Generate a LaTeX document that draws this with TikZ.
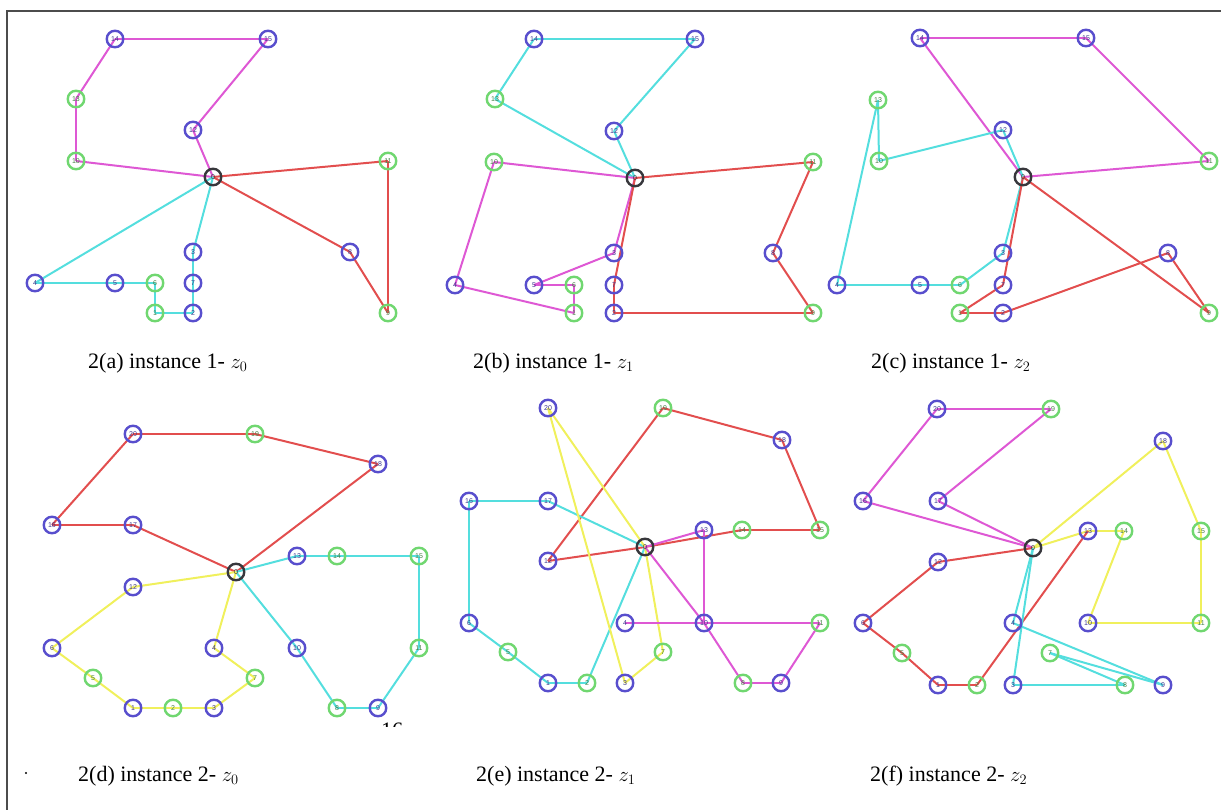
\documentclass[tikz,border=0pt]{standalone}
\usepackage{fontspec}
\setmainfont{Liberation Serif}
\newfontfamily\lblfont{Liberation Sans}
\pgfdeclarelayer{bg}
\pgfsetlayers{bg,main}
\definecolor{nblue}{RGB}{88,78,205}
\definecolor{ngreen}{RGB}{112,215,112}
\definecolor{ndepot}{RGB}{55,55,60}
\definecolor{emag}{RGB}{222,88,212}
\definecolor{ered}{RGB}{226,78,78}
\definecolor{ecyan}{RGB}{84,222,222}
\definecolor{eyel}{RGB}{240,240,92}
\tikzset{
  vtx/.style={circle, minimum size=16.5pt, inner sep=0pt, line width=2.4pt, fill=none,
              font=\lblfont\fontsize{7}{7}\selectfont},
  bnode/.style={vtx, draw=nblue, text=nblue!70!black},
  gnode/.style={vtx, draw=ngreen, text=ngreen!60!black},
  dnode/.style={vtx, draw=ndepot, text=ndepot},
  emg/.style={draw=emag, line width=2pt},
  erd/.style={draw=ered, line width=2pt},
  ecy/.style={draw=ecyan, line width=2pt},
  eyl/.style={draw=eyel, line width=2pt},
  captxt/.style={anchor=base west, inner sep=0pt, font=\fontsize{22}{26}\selectfont}
}
\begin{document}
\begin{tikzpicture}[x=1pt,y=-1pt]
\useasboundingbox (0,0) rectangle (1221,810);
\draw[gray!60!black, line width=1.3pt] (7,810) -- (7,11) -- (1221,11);

% ---------- panel (a)
\foreach \n/\x/\y in {14/115/39,15/268/39,12/193/130,3/193/252,8/350/252,4/35/283,5/115/283,7/193/283,2/193/313}
  \node[bnode] (a\n) at (\x,\y) {\n};
\foreach \n/\x/\y in {13/76/99,10/76/161,11/388/161,6/155/283,1/155/313,9/388/313}
  \node[gnode] (a\n) at (\x,\y) {\n};
\node[dnode] (a0) at (213,177) {0};
% ---------- panel (b)
\foreach \n/\x/\y in {14/534/39,15/695/39,12/614/131,3/614/253,8/773/253,4/455/285,5/534/285,7/614/285,2/614/313}
  \node[bnode] (b\n) at (\x,\y) {\n};
\foreach \n/\x/\y in {13/495/99,10/494/162,11/813/162,6/574/285,1/574/313,9/813/313}
  \node[gnode] (b\n) at (\x,\y) {\n};
\node[dnode] (b0) at (635,178) {0};
% ---------- panel (c)
\foreach \n/\x/\y in {14/920/38,15/1086/38,12/1003/130,3/1003/253,8/1168/253,4/837/285,5/920/285,7/1003/285,2/1003/313}
  \node[bnode] (c\n) at (\x,\y) {\n};
\foreach \n/\x/\y in {13/878/100,10/879/161,11/1209/161,6/960/285,1/960/313,9/1209/313}
  \node[gnode] (c\n) at (\x,\y) {\n};
\node[dnode] (c0) at (1023,177) {0};
% ---------- panel (d)
\foreach \n/\x/\y in {20/133/434,18/378/464,16/52/525,17/133/525,13/297/556,12/133/587,6/52/648,4/214/648,10/297/648,1/133/708,3/214/708,9/378/708}
  \node[bnode] (d\n) at (\x,\y) {\n};
\foreach \n/\x/\y in {19/255/434,14/337/556,15/419/556,11/419/648,5/93/678,7/255/678,2/173/708,8/337/708}
  \node[gnode] (d\n) at (\x,\y) {\n};
\node[dnode] (d0) at (236,572) {0};
% ---------- panel (e)
\foreach \n/\x/\y in {20/548/408,18/782/440,16/469/501,17/548/501,13/704/530,12/548/561,6/469/623,4/625/623,10/704/623,1/548/683,3/625/683,9/781/683}
  \node[bnode] (e\n) at (\x,\y) {\n};
\foreach \n/\x/\y in {19/663/408,14/742/530,15/820/530,11/820/623,5/508/652,7/663/652,2/587/683,8/743/683}
  \node[gnode] (e\n) at (\x,\y) {\n};
\node[dnode] (e0) at (645,547) {0};
% ---------- panel (f)
\foreach \n/\x/\y in {20/937/409,18/1163/441,16/863/501,17/938/501,13/1088/531,12/938/562,6/863/623,4/1013/623,10/1088/623,1/938/685,3/1013/685,9/1163/685}
  \node[bnode] (f\n) at (\x,\y) {\n};
\foreach \n/\x/\y in {19/1051/409,14/1124/531,15/1201/531,11/1201/623,5/902/653,7/1050/653,2/977/685,8/1125/685}
  \node[gnode] (f\n) at (\x,\y) {\n};
\node[dnode] (f0) at (1033,548) {0};

\begin{pgfonlayer}{bg}
% (a)
\foreach \u/\v in {a14/a15,a14/a13,a13/a10,a10/a0,a15/a12,a12/a0}
  \draw[emg] (\u.center) -- (\v.center);
\foreach \u/\v in {a0/a11,a11/a9,a0/a8,a8/a9}
  \draw[erd] (\u.center) -- (\v.center);
\foreach \u/\v in {a0/a4,a4/a5,a5/a6,a6/a1,a1/a2,a2/a7,a7/a3,a3/a0}
  \draw[ecy] (\u.center) -- (\v.center);
% (b)
\foreach \u/\v in {b14/b15,b14/b13,b13/b0,b15/b12,b12/b0}
  \draw[ecy] (\u.center) -- (\v.center);
\foreach \u/\v in {b10/b0,b10/b4,b4/b1,b1/b6,b6/b5,b5/b3,b3/b0}
  \draw[emg] (\u.center) -- (\v.center);
\foreach \u/\v in {b0/b11,b11/b8,b8/b9,b9/b2,b2/b7,b7/b0}
  \draw[erd] (\u.center) -- (\v.center);
% (c)
\foreach \u/\v in {c14/c15,c15/c11,c11/c0,c0/c14}
  \draw[emg] (\u.center) -- (\v.center);
\foreach \u/\v in {c0/c12,c12/c10,c10/c13,c13/c4,c4/c5,c5/c6,c6/c3,c3/c0}
  \draw[ecy] (\u.center) -- (\v.center);
\foreach \u/\v in {c0/c7,c7/c1,c1/c2,c2/c8,c8/c9,c9/c0}
  \draw[erd] (\u.center) -- (\v.center);
% (d)
\foreach \u/\v in {d0/d17,d17/d16,d16/d20,d20/d19,d19/d18,d18/d0}
  \draw[erd] (\u.center) -- (\v.center);
\foreach \u/\v in {d0/d13,d13/d14,d14/d15,d15/d11,d11/d9,d9/d8,d8/d10,d10/d0}
  \draw[ecy] (\u.center) -- (\v.center);
\foreach \u/\v in {d0/d12,d12/d6,d6/d5,d5/d1,d1/d2,d2/d3,d3/d7,d7/d4,d4/d0}
  \draw[eyl] (\u.center) -- (\v.center);
% (e)
\foreach \u/\v in {e0/e12,e12/e19,e19/e18,e18/e15,e15/e14,e14/e0}
  \draw[erd] (\u.center) -- (\v.center);
\foreach \u/\v in {e0/e17,e17/e16,e16/e6,e6/e5,e5/e1,e1/e2,e2/e0}
  \draw[ecy] (\u.center) -- (\v.center);
\foreach \u/\v in {e0/e20,e20/e3,e3/e7,e7/e0}
  \draw[eyl] (\u.center) -- (\v.center);
\foreach \u/\v in {e0/e13,e13/e10,e4/e11,e11/e9,e9/e8,e8/e10,e10/e0}
  \draw[emg] (\u.center) -- (\v.center);
% (f)
\foreach \u/\v in {f0/f16,f16/f20,f20/f19,f19/f17,f17/f0}
  \draw[emg] (\u.center) -- (\v.center);
\foreach \u/\v in {f0/f13,f13/f14,f14/f10,f10/f11,f11/f15,f15/f18,f18/f0}
  \draw[eyl] (\u.center) -- (\v.center);
\foreach \u/\v in {f0/f12,f12/f6,f6/f5,f5/f1,f1/f2,f2/f13}
  \draw[erd] (\u.center) -- (\v.center);
\foreach \u/\v in {f0/f3,f3/f8,f8/f7,f7/f9,f9/f4,f4/f0}
  \draw[ecy] (\u.center) -- (\v.center);
\end{pgfonlayer}

% captions
\node[captxt] (capa) at (88,368) {2(a) instance 1- $z_0$};
\node[captxt] (capb) at (473,368) {2(b) instance 1- $z_1$};
\node[captxt] (capc) at (871,368) {2(c) instance 1- $z_2$};
\node[captxt] (capd) at (78,781) {2(d) instance 2- $z_0$};
\node[captxt] (cape) at (476,781) {2(e) instance 2- $z_1$};
\node[captxt] (capf) at (870,781) {2(f) instance 2- $z_2$};
\fill (26,773) circle (1.2pt);
\begin{scope}
  \clip (378,719) rectangle (410,726);
  \node[captxt] (frag) at (381,737) {16};
\end{scope}
\end{tikzpicture}
\end{document}
